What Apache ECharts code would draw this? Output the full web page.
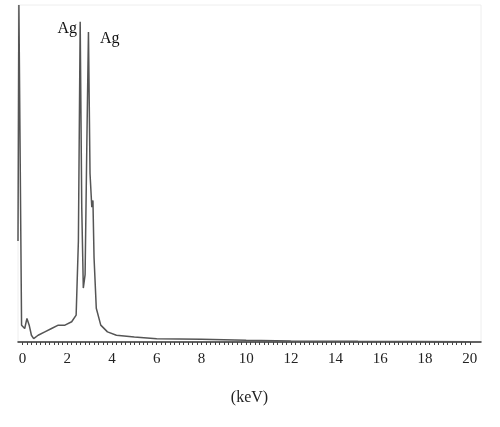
<!DOCTYPE html>
<html><head><meta charset="utf-8">
<script src="https://cdn.jsdelivr.net/npm/echarts@6/dist/echarts.min.js"></script>
<style>html,body{margin:0;background:#fff}#c{width:500px;height:427px}</style>
</head><body><div id="c"></div>
<script>
const energy = [-0.2,-0.16,-0.12,-0.08,-0.04,0.1,0.2,0.3,0.4,0.5,0.7,1.0,1.3,1.6,1.9,2.2,2.4,2.5,2.58,2.65,2.72,2.8,2.88,2.95,3.02,3.1,3.15,3.2,3.3,3.5,3.8,4.2,5,6,8,10,12,15,20];
const counts = [30,100,100,100,5,4,7,5,2,1,2,3,4,5,5,6,8,30,95,40,16,20,60,92,50,40,42,25,10,5,3,2,1.5,1,0.8,0.5,0.3,0.2,0.1];
const peakLabels = [{name:'Ag', x:2.0, y:93},{name:'Ag', x:3.9, y:90}];
const xTicks = [0,2,4,6,8,10,12,14,16,18,20];
const minorTicks = [];
for (let i = 0; i <= 100; i++) minorTicks.push(i * 0.2);
const chart = echarts.init(document.getElementById('c'));
chart.setOption({
  animation:false,
  grid:{left:18,right:19,top:5,bottom:85,show:true,borderColor:'#eee',borderWidth:1},
  xAxis:{type:'value',min:-0.2,max:20.5,name:'(keV)',nameLocation:'middle',nameGap:48,
    nameTextStyle:{fontFamily:'Liberation Serif',fontSize:16,color:'#222'},
    axisLine:{lineStyle:{color:'#333',width:1.5}},
    axisTick:{show:true,customValues:minorTicks,lineStyle:{color:'#444'},length:3},
    splitLine:{show:false},
    axisLabel:{customValues:xTicks,fontFamily:'Liberation Serif',fontSize:15,color:'#222',margin:10}},
  yAxis:{type:'value',min:0,max:100,show:false},
  series:[{type:'line',data:energy.map((e,i)=>[e,counts[i]]),showSymbol:false,
    lineStyle:{color:'#555',width:1.5}}]
});
chart.setOption({graphic:peakLabels.map(p=>{
  const pt = chart.convertToPixel({gridIndex:0},[p.x,p.y]);
  return {type:'text',x:pt[0],y:pt[1],style:{text:p.name,fontFamily:'Liberation Serif',fontSize:16,fill:'#111',align:'center',verticalAlign:'middle'}};
})});
</script></body></html>
